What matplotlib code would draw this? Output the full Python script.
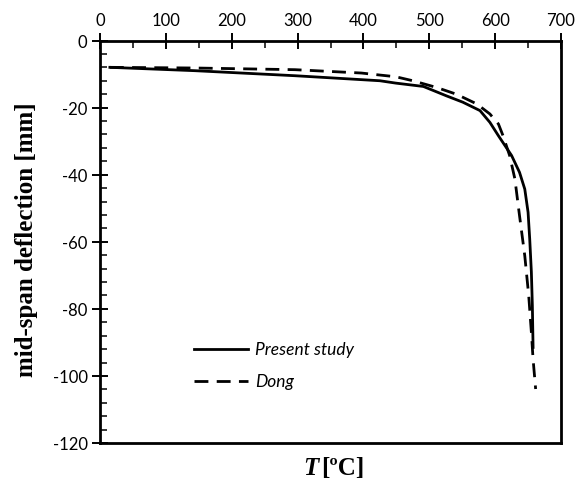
import matplotlib
matplotlib.use("Agg")
import matplotlib.pyplot as plt
from matplotlib.ticker import MultipleLocator

plt.rcParams["axes.unicode_minus"] = False

# Present study (solid)
T_present = [15, 144, 296, 425, 449, 491, 526, 551, 577, 592, 605, 625, 637, 645, 650, 652.5, 655, 656.5, 657.6]
d_present = [-8.0, -9.0, -10.5, -12.0, -12.7, -13.7, -16.5, -18.4, -20.9, -24.4, -28.4, -34.3, -39.3, -44.3, -51.2, -59.2, -69.0, -79.0, -91.5]

# Dong (dashed)
T_dong = [15, 144, 296, 397, 425, 449, 475, 511, 541, 572, 592, 605, 612, 622, 630, 637, 645, 651, 655, 657.6, 661.5]
d_dong = [-8.0, -8.2, -8.7, -9.7, -10.3, -10.8, -12.0, -14.0, -16.0, -18.9, -21.9, -24.9, -28.4, -34.3, -41.3, -52.2, -64.2, -76.1, -87.0, -95.0, -103.9]

labels = ["Present study", "Dong"]

fig = plt.figure(figsize=(5.83, 4.85), dpi=100)
ax = fig.add_axes([100/583, 1-444/485, 461/583, (444-41.5)/485])

dash = (0, (5, 3))
ax.plot(T_present, d_present, color="black", lw=2.0, linestyle="-")
ax.plot(T_dong, d_dong, color="black", lw=2.0, linestyle=dash)

ax.set_xlim(0, 700)
ax.set_ylim(-120, 0)
ax.xaxis.tick_top()
ax.xaxis.set_major_locator(MultipleLocator(100))
ax.xaxis.set_minor_locator(MultipleLocator(50))
ax.yaxis.set_major_locator(MultipleLocator(20))
ax.yaxis.set_minor_locator(MultipleLocator(4))
ax.tick_params(axis="both", which="major", direction="inout", length=12, width=1.4,
               labelsize=12, pad=3)
ax.tick_params(axis="both", which="minor", direction="in", length=5, width=1.1)
ax.tick_params(axis="x", which="both", top=True, bottom=False)
ax.tick_params(axis="y", which="both", left=True, right=False)
for lab in ax.get_xticklabels() + ax.get_yticklabels():
    lab.set_family(["Lato", "DejaVu Sans"])
for s in ax.spines.values():
    s.set_linewidth(2.0)

# legend drawn manually
x0 = (194-100)/461*700
x1 = (248-100)/461*700
xt = (255-100)/461*700
y_a = -(350-41.5)/3.354
y_b = -(381.5-41.5)/3.354
ax.plot([x0, x1], [y_a, y_a], color="black", lw=2.0)
ax.plot([x0, x1], [y_b, y_b], color="black", lw=2.0, linestyle=dash)
ax.text(xt, y_a, labels[0], style="italic", fontsize=12.5,
        family=["Lato", "DejaVu Sans"], va="center", ha="left")
ax.text(xt, y_b, labels[1], style="italic", fontsize=12.5,
        family=["Lato", "DejaVu Sans"], va="center", ha="left")

serif = ["Liberation Serif", "DejaVu Serif"]
fig.text(27/583, 1-240/485, "mid-span deflection [mm]", rotation=90, ha="center", va="center",
         fontsize=18, fontweight="bold", family=serif)
fig.text(318/583, 1-469/485, "T", ha="right", va="center", fontsize=18,
         fontweight="bold", style="italic", family=serif)
fig.text(321/583, 1-469/485, "[ºC]", ha="left", va="center",
         fontsize=18, fontweight="bold", family=serif)

fig.savefig("out.png", dpi=100)
